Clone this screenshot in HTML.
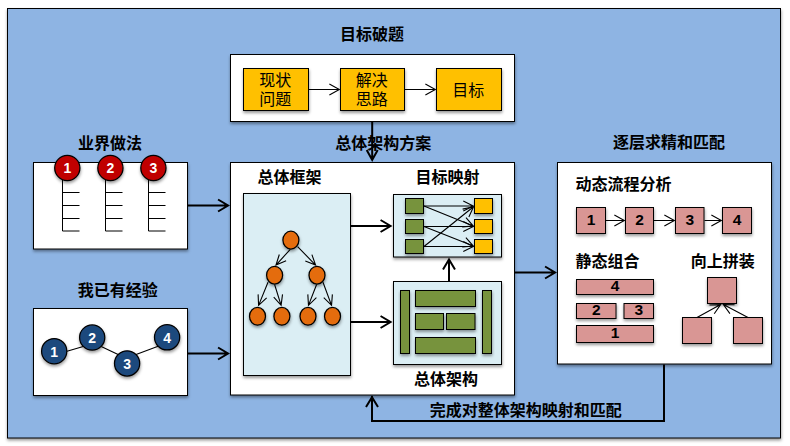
<!DOCTYPE html>
<html lang="zh-CN"><head><meta charset="utf-8"><title>总体架构方案</title>
<style>
html,body{margin:0;padding:0;background:#fff;}
body{width:790px;height:446px;overflow:hidden;}
svg{display:block;}
svg text{font-family:"Liberation Sans","Noto Sans CJK SC",sans-serif;}
</style></head><body>
<svg width="790" height="446" viewBox="0 0 790 446">
<defs>
<filter id="sh" x="-20%" y="-20%" width="150%" height="150%"><feDropShadow dx="0.3" dy="2" stdDeviation="1.6" flood-color="#000" flood-opacity="0.4"/></filter>
</defs>
<rect x="0" y="0" width="790" height="446" fill="#fff"/>
<rect x="7.5" y="8.5" width="773.00" height="429.50" fill="#8EB4E3" stroke="#000" stroke-width="1" filter="url(#sh)"/>
<rect x="230.5" y="54.5" width="284.00" height="67.00" fill="#fff" stroke="#000" stroke-width="1" filter="url(#sh)"/>
<rect x="33.5" y="162.5" width="154.00" height="86.50" fill="#fff" stroke="#000" stroke-width="1" filter="url(#sh)"/>
<rect x="33.5" y="308.5" width="154.00" height="87.00" fill="#fff" stroke="#000" stroke-width="1" filter="url(#sh)"/>
<rect x="230.5" y="162.5" width="284.00" height="232.50" fill="#fff" stroke="#000" stroke-width="1" filter="url(#sh)"/>
<rect x="557.5" y="162.5" width="214.00" height="201.50" fill="#fff" stroke="#000" stroke-width="1" filter="url(#sh)"/>
<text x="372" y="40" font-size="16" font-weight="700" text-anchor="middle" fill="#000">目标破题</text>
<text x="110" y="148.8" font-size="16" font-weight="700" text-anchor="middle" fill="#000">业界做法</text>
<text x="117.7" y="295.5" font-size="16" font-weight="700" text-anchor="middle" fill="#000">我已有经验</text>
<text x="383.2" y="148.8" font-size="16" font-weight="700" text-anchor="middle" fill="#000">总体架构方案</text>
<text x="669" y="148.4" font-size="16" font-weight="700" text-anchor="middle" fill="#000">逐层求精和匹配</text>
<rect x="243.5" y="68.5" width="65.00" height="42.00" fill="#FFC000" stroke="#000" stroke-width="1" filter="url(#sh)"/>
<text x="275.2" y="86" font-size="16" font-weight="400" text-anchor="middle" fill="#000">现状</text>
<text x="275.2" y="104.5" font-size="16" font-weight="400" text-anchor="middle" fill="#000">问题</text>
<rect x="340.5" y="68.5" width="64.00" height="42.00" fill="#FFC000" stroke="#000" stroke-width="1" filter="url(#sh)"/>
<text x="371.7" y="86" font-size="16" font-weight="400" text-anchor="middle" fill="#000">解决</text>
<text x="371.7" y="104.5" font-size="16" font-weight="400" text-anchor="middle" fill="#000">思路</text>
<rect x="436.5" y="68.5" width="65.00" height="42.00" fill="#FFC000" stroke="#000" stroke-width="1" filter="url(#sh)"/>
<text x="468.2" y="95.5" font-size="16" font-weight="400" text-anchor="middle" fill="#000">目标</text>
<path d="M309.00 89.50L339.36 89.50M329.36 95.00L339.36 89.50L329.36 84.00" fill="none" stroke="#000" stroke-width="1.1" stroke-linejoin="miter" stroke-miterlimit="10" stroke-linecap="butt"/>
<path d="M405.00 89.50L435.36 89.50M425.36 95.00L435.36 89.50L425.36 84.00" fill="none" stroke="#000" stroke-width="1.1" stroke-linejoin="miter" stroke-miterlimit="10" stroke-linecap="butt"/>
<path d="M372.20 122.00L372.20 159.92M366.70 149.92L372.20 159.92L377.70 149.92" fill="none" stroke="#000" stroke-width="2" stroke-linejoin="miter" stroke-miterlimit="10" stroke-linecap="butt"/>
<path d="M62.5 175V231M62.5 192.5H79.5M62.5 205.5H79.5M62.5 218.5H79.5M62.5 231H79.5" fill="none" stroke="#000" stroke-width="1"/>
<circle cx="67.3" cy="168" r="12.6" fill="#C00000" stroke="#000" stroke-width="1.25" filter="url(#sh)"/>
<text x="67.3" y="173" font-size="14" font-weight="700" text-anchor="middle" fill="#fff">1</text>
<path d="M105.5 175V231M105.5 192.5H122.5M105.5 205.5H122.5M105.5 218.5H122.5M105.5 231H122.5" fill="none" stroke="#000" stroke-width="1"/>
<circle cx="110.4" cy="168" r="12.6" fill="#C00000" stroke="#000" stroke-width="1.25" filter="url(#sh)"/>
<text x="110.4" y="173" font-size="14" font-weight="700" text-anchor="middle" fill="#fff">2</text>
<path d="M148.5 175V231M148.5 192.5H165.5M148.5 205.5H165.5M148.5 218.5H165.5M148.5 231H165.5" fill="none" stroke="#000" stroke-width="1"/>
<circle cx="153.4" cy="168" r="12.6" fill="#C00000" stroke="#000" stroke-width="1.25" filter="url(#sh)"/>
<text x="153.4" y="173" font-size="14" font-weight="700" text-anchor="middle" fill="#fff">3</text>
<path d="M67 351.2L83.2 346.5M101.2 346.5L118.1 354.4M136.1 354.4L158.1 346.3" fill="none" stroke="#000" stroke-width="1.1"/>
<circle cx="54.2" cy="351.2" r="12.6" fill="#1F497D" stroke="#000" stroke-width="1.25" filter="url(#sh)"/>
<text x="54.2" y="356.8" font-size="14" font-weight="700" text-anchor="middle" fill="#fff">1</text>
<circle cx="92.2" cy="337.5" r="12.6" fill="#1F497D" stroke="#000" stroke-width="1.25" filter="url(#sh)"/>
<text x="92.2" y="343.1" font-size="14" font-weight="700" text-anchor="middle" fill="#fff">2</text>
<circle cx="127.1" cy="363.4" r="12.6" fill="#1F497D" stroke="#000" stroke-width="1.25" filter="url(#sh)"/>
<text x="127.1" y="369.0" font-size="14" font-weight="700" text-anchor="middle" fill="#fff">3</text>
<circle cx="167.1" cy="337.3" r="12.6" fill="#1F497D" stroke="#000" stroke-width="1.25" filter="url(#sh)"/>
<text x="167.1" y="342.90000000000003" font-size="14" font-weight="700" text-anchor="middle" fill="#fff">4</text>
<path d="M188.00 205.50L228.06 205.50M218.06 211.50L228.06 205.50L218.06 199.50" fill="none" stroke="#000" stroke-width="2" stroke-linejoin="miter" stroke-miterlimit="10" stroke-linecap="butt"/>
<path d="M188.00 353.50L228.06 353.50M218.06 359.50L228.06 353.50L218.06 347.50" fill="none" stroke="#000" stroke-width="2" stroke-linejoin="miter" stroke-miterlimit="10" stroke-linecap="butt"/>
<text x="289.5" y="182.8" font-size="16" font-weight="700" text-anchor="middle" fill="#000">总体框架</text>
<text x="447.6" y="183" font-size="16" font-weight="700" text-anchor="middle" fill="#000">目标映射</text>
<text x="446" y="385.3" font-size="16" font-weight="700" text-anchor="middle" fill="#000">总体架构</text>
<rect x="243.5" y="193.5" width="107.00" height="182.00" fill="#DBEEF4" stroke="#000" stroke-width="1" filter="url(#sh)"/>
<path d="M290.30 249.30L275.99 265.03M279.32 254.53L275.99 265.03L286.12 260.73" fill="none" stroke="#000" stroke-width="1.1" stroke-linejoin="miter" stroke-miterlimit="10" stroke-linecap="butt"/>
<path d="M297.60 246.60L315.58 265.06M305.31 261.10L315.58 265.06L311.90 254.68" fill="none" stroke="#000" stroke-width="1.1" stroke-linejoin="miter" stroke-miterlimit="10" stroke-linecap="butt"/>
<path d="M268.00 282.30L258.60 305.38M258.11 294.38L258.60 305.38L266.63 297.86" fill="none" stroke="#000" stroke-width="1.1" stroke-linejoin="miter" stroke-miterlimit="10" stroke-linecap="butt"/>
<path d="M274.60 284.50L281.11 305.34M273.74 297.17L281.11 305.34L282.52 294.43" fill="none" stroke="#000" stroke-width="1.1" stroke-linejoin="miter" stroke-miterlimit="10" stroke-linecap="butt"/>
<path d="M316.60 284.50L308.48 305.37M307.82 294.39L308.48 305.37L316.39 297.72" fill="none" stroke="#000" stroke-width="1.1" stroke-linejoin="miter" stroke-miterlimit="10" stroke-linecap="butt"/>
<path d="M323.00 282.30L331.54 305.37M323.76 297.59L331.54 305.37L332.38 294.39" fill="none" stroke="#000" stroke-width="1.1" stroke-linejoin="miter" stroke-miterlimit="10" stroke-linecap="butt"/>
<ellipse cx="290.9" cy="240.1" rx="8.0" ry="8.9" fill="#E46C0A" stroke="#000" stroke-width="1.25" filter="url(#sh)"/>
<ellipse cx="274.6" cy="275.2" rx="8.0" ry="8.9" fill="#E46C0A" stroke="#000" stroke-width="1.25" filter="url(#sh)"/>
<ellipse cx="317" cy="275.2" rx="8.0" ry="8.9" fill="#E46C0A" stroke="#000" stroke-width="1.25" filter="url(#sh)"/>
<ellipse cx="257.5" cy="316.3" rx="8.0" ry="8.9" fill="#E46C0A" stroke="#000" stroke-width="1.25" filter="url(#sh)"/>
<ellipse cx="281.9" cy="316.3" rx="8.0" ry="8.9" fill="#E46C0A" stroke="#000" stroke-width="1.25" filter="url(#sh)"/>
<ellipse cx="308" cy="316.3" rx="8.0" ry="8.9" fill="#E46C0A" stroke="#000" stroke-width="1.25" filter="url(#sh)"/>
<ellipse cx="332.5" cy="316.3" rx="8.0" ry="8.9" fill="#E46C0A" stroke="#000" stroke-width="1.25" filter="url(#sh)"/>
<path d="M351.00 226.00L390.56 226.00M380.56 232.00L390.56 226.00L380.56 220.00" fill="none" stroke="#000" stroke-width="2" stroke-linejoin="miter" stroke-miterlimit="10" stroke-linecap="butt"/>
<path d="M351.00 322.00L390.56 322.00M380.56 328.00L390.56 322.00L380.56 316.00" fill="none" stroke="#000" stroke-width="2" stroke-linejoin="miter" stroke-miterlimit="10" stroke-linecap="butt"/>
<rect x="393.5" y="194.5" width="108.00" height="62.50" fill="#DBEEF4" stroke="#000" stroke-width="1" filter="url(#sh)"/>
<path d="M424.00 206.00L473.27 206.00M463.27 211.00L473.27 206.00L463.27 201.00" fill="none" stroke="#000" stroke-width="1.1" stroke-linejoin="miter" stroke-miterlimit="10" stroke-linecap="butt"/>
<path d="M424.00 206.00L473.36 226.04M462.21 226.91L473.36 226.04L465.98 217.64" fill="none" stroke="#000" stroke-width="1.1" stroke-linejoin="miter" stroke-miterlimit="10" stroke-linecap="butt"/>
<path d="M424.00 226.50L473.27 226.50M463.27 231.50L473.27 226.50L463.27 221.50" fill="none" stroke="#000" stroke-width="1.1" stroke-linejoin="miter" stroke-miterlimit="10" stroke-linecap="butt"/>
<path d="M424.00 226.50L473.36 246.05M462.22 247.01L473.36 246.05L465.90 237.72" fill="none" stroke="#000" stroke-width="1.1" stroke-linejoin="miter" stroke-miterlimit="10" stroke-linecap="butt"/>
<path d="M424.00 246.50L473.54 206.77M468.87 216.93L473.54 206.77L462.61 209.13" fill="none" stroke="#000" stroke-width="1.1" stroke-linejoin="miter" stroke-miterlimit="10" stroke-linecap="butt"/>
<path d="M424.00 246.50L473.27 246.50M463.27 251.50L473.27 246.50L463.27 241.50" fill="none" stroke="#000" stroke-width="1.1" stroke-linejoin="miter" stroke-miterlimit="10" stroke-linecap="butt"/>
<rect x="405.5" y="198.5" width="18.00" height="15.00" fill="#77933C" stroke="#000" stroke-width="1" filter="url(#sh)"/>
<rect x="474.5" y="198.5" width="18.00" height="15.00" fill="#FFC000" stroke="#000" stroke-width="1" filter="url(#sh)"/>
<rect x="405.5" y="219.5" width="18.00" height="14.00" fill="#77933C" stroke="#000" stroke-width="1" filter="url(#sh)"/>
<rect x="474.5" y="219.5" width="18.00" height="14.00" fill="#FFC000" stroke="#000" stroke-width="1" filter="url(#sh)"/>
<rect x="405.5" y="239.5" width="18.00" height="14.00" fill="#77933C" stroke="#000" stroke-width="1" filter="url(#sh)"/>
<rect x="474.5" y="239.5" width="18.00" height="14.00" fill="#FFC000" stroke="#000" stroke-width="1" filter="url(#sh)"/>
<path d="M449.00 281.00L449.00 259.44M455.00 269.44L449.00 259.44L443.00 269.44" fill="none" stroke="#000" stroke-width="2" stroke-linejoin="miter" stroke-miterlimit="10" stroke-linecap="butt"/>
<rect x="393.5" y="281.5" width="108.00" height="83.00" fill="#DBEEF4" stroke="#000" stroke-width="1" filter="url(#sh)"/>
<rect x="400.5" y="290.5" width="9.00" height="63.00" fill="#77933C" stroke="#000" stroke-width="1" filter="url(#sh)"/>
<rect x="482.5" y="290.5" width="9.00" height="63.00" fill="#77933C" stroke="#000" stroke-width="1" filter="url(#sh)"/>
<rect x="415.5" y="290.5" width="60.00" height="16.00" fill="#77933C" stroke="#000" stroke-width="1" filter="url(#sh)"/>
<rect x="415.5" y="313.5" width="28.00" height="16.00" fill="#77933C" stroke="#000" stroke-width="1" filter="url(#sh)"/>
<rect x="446.5" y="313.5" width="28.50" height="16.00" fill="#77933C" stroke="#000" stroke-width="1" filter="url(#sh)"/>
<rect x="415.5" y="337.5" width="60.00" height="16.00" fill="#77933C" stroke="#000" stroke-width="1" filter="url(#sh)"/>
<path d="M515.00 272.50L555.06 272.50M545.06 278.50L555.06 272.50L545.06 266.50" fill="none" stroke="#000" stroke-width="2" stroke-linejoin="miter" stroke-miterlimit="10" stroke-linecap="butt"/>
<text x="575.5" y="190.2" font-size="16" font-weight="700" text-anchor="start" fill="#000">动态流程分析</text>
<rect x="576.5" y="207.5" width="29.00" height="26.00" fill="#D99694" stroke="#000" stroke-width="1" filter="url(#sh)"/>
<text x="591.0" y="225" font-size="15.5" font-weight="700" text-anchor="middle" fill="#000">1</text>
<path d="M606.00 220.50L624.36 220.50M614.36 226.00L624.36 220.50L614.36 215.00" fill="none" stroke="#000" stroke-width="1.1" stroke-linejoin="miter" stroke-miterlimit="10" stroke-linecap="butt"/>
<rect x="625.5" y="207.5" width="28.00" height="26.00" fill="#D99694" stroke="#000" stroke-width="1" filter="url(#sh)"/>
<text x="639.5" y="225" font-size="15.5" font-weight="700" text-anchor="middle" fill="#000">2</text>
<path d="M654.00 220.50L674.36 220.50M664.36 226.00L674.36 220.50L664.36 215.00" fill="none" stroke="#000" stroke-width="1.1" stroke-linejoin="miter" stroke-miterlimit="10" stroke-linecap="butt"/>
<rect x="675.5" y="207.5" width="28.50" height="26.00" fill="#D99694" stroke="#000" stroke-width="1" filter="url(#sh)"/>
<text x="689.75" y="225" font-size="15.5" font-weight="700" text-anchor="middle" fill="#000">3</text>
<path d="M704.50 220.50L721.36 220.50M711.36 226.00L721.36 220.50L711.36 215.00" fill="none" stroke="#000" stroke-width="1.1" stroke-linejoin="miter" stroke-miterlimit="10" stroke-linecap="butt"/>
<rect x="722.5" y="207.5" width="29.00" height="26.00" fill="#D99694" stroke="#000" stroke-width="1" filter="url(#sh)"/>
<text x="737.0" y="225" font-size="15.5" font-weight="700" text-anchor="middle" fill="#000">4</text>
<text x="575.5" y="267.3" font-size="16" font-weight="700" text-anchor="start" fill="#000">静态组合</text>
<text x="722.8" y="267.3" font-size="16" font-weight="700" text-anchor="middle" fill="#000">向上拼装</text>
<rect x="576.5" y="279.5" width="77.00" height="15.00" fill="#D99694" stroke="#000" stroke-width="1" filter="url(#sh)"/>
<text x="615.0" y="291.0" font-size="15.5" font-weight="700" text-anchor="middle" fill="#000">4</text>
<rect x="576.5" y="303.5" width="39.50" height="15.00" fill="#D99694" stroke="#000" stroke-width="1" filter="url(#sh)"/>
<text x="596.25" y="315.0" font-size="15.5" font-weight="700" text-anchor="middle" fill="#000">2</text>
<rect x="624" y="303.5" width="29.50" height="15.00" fill="#D99694" stroke="#000" stroke-width="1" filter="url(#sh)"/>
<text x="638.75" y="315.0" font-size="15.5" font-weight="700" text-anchor="middle" fill="#000">3</text>
<rect x="576.5" y="325.5" width="77.00" height="17.00" fill="#D99694" stroke="#000" stroke-width="1" filter="url(#sh)"/>
<text x="615.0" y="338.0" font-size="15.5" font-weight="700" text-anchor="middle" fill="#000">1</text>
<path d="M697.00 317.50L720.62 304.59M714.24 313.77L720.62 304.59L709.45 305.00" fill="none" stroke="#000" stroke-width="1.1" stroke-linejoin="miter" stroke-miterlimit="10" stroke-linecap="butt"/>
<path d="M748.00 317.50L723.39 304.57M734.57 304.80L723.39 304.57L729.92 313.65" fill="none" stroke="#000" stroke-width="1.1" stroke-linejoin="miter" stroke-miterlimit="10" stroke-linecap="butt"/>
<rect x="707.5" y="277.5" width="29.00" height="26.00" fill="#D99694" stroke="#000" stroke-width="1" filter="url(#sh)"/>
<rect x="682.5" y="317.5" width="29.00" height="26.00" fill="#D99694" stroke="#000" stroke-width="1" filter="url(#sh)"/>
<rect x="733.5" y="317.5" width="29.00" height="26.00" fill="#D99694" stroke="#000" stroke-width="1" filter="url(#sh)"/>
<path d="M664 364.5V421H372V396" fill="none" stroke="#000" stroke-width="2" stroke-linejoin="miter"/>
<path d="M366 407L372 397.2L378 407" fill="none" stroke="#000" stroke-width="2" stroke-linejoin="miter"/>
<text x="525.8" y="415.7" font-size="16" font-weight="700" text-anchor="middle" fill="#000">完成对整体架构映射和匹配</text>
</svg>
</body></html>
